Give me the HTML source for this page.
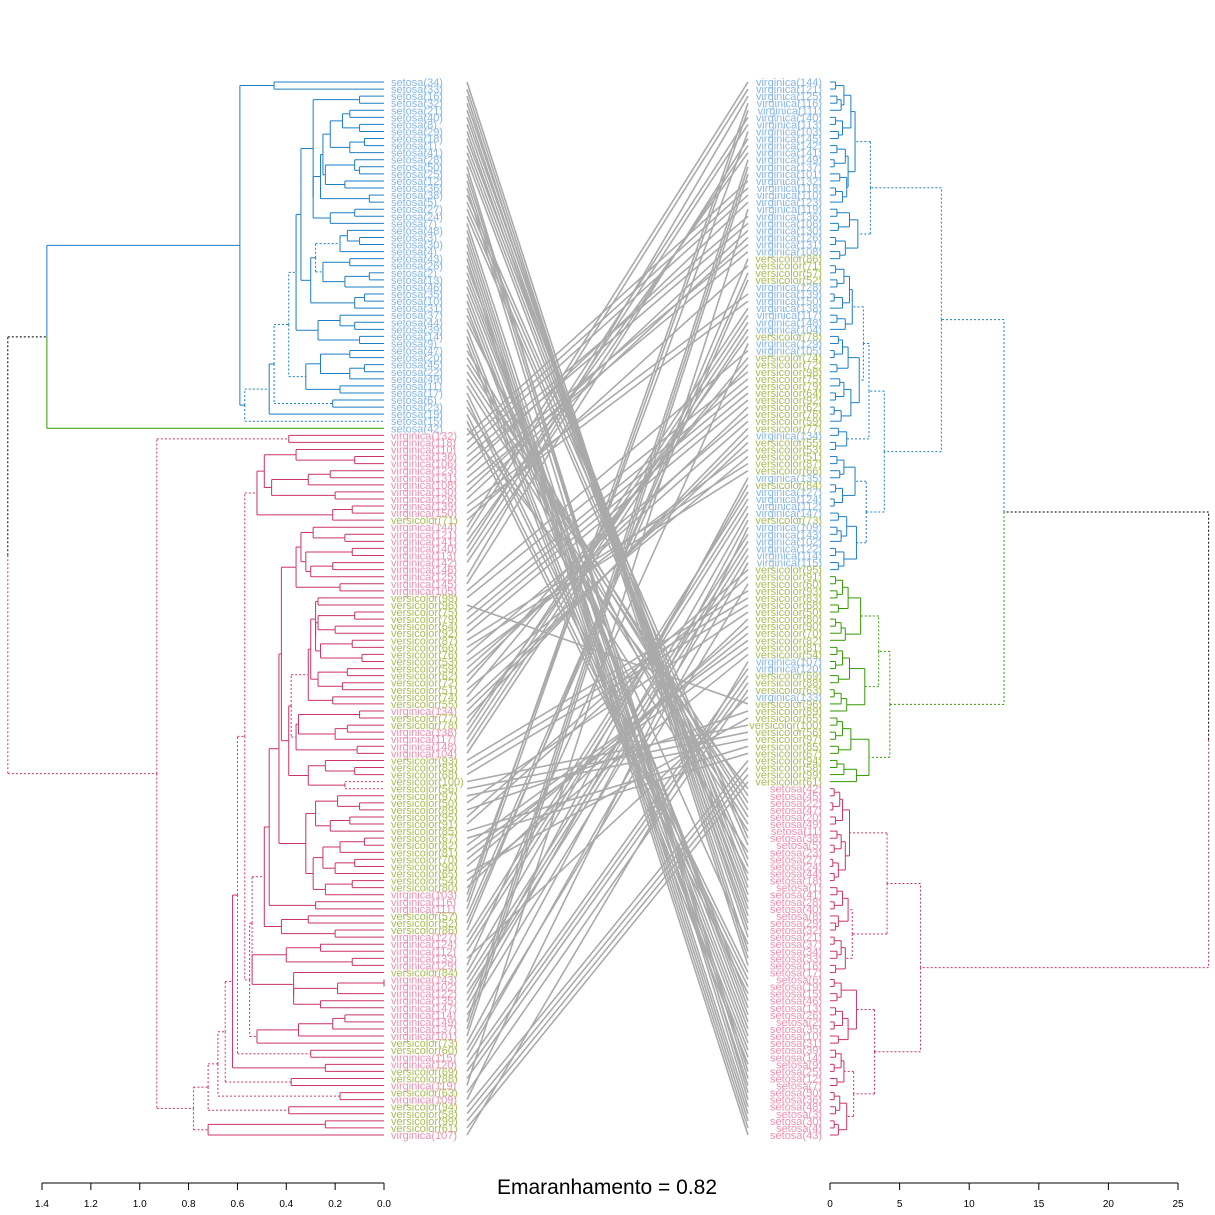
<!DOCTYPE html>
<html><head><meta charset="utf-8"><style>
html,body{margin:0;padding:0;background:#fff;}
svg{display:block;font-family:"Liberation Sans",sans-serif;}
</style></head><body>
<svg id="chart" width="1215" height="1215" viewBox="0 0 1215 1215" xmlns="http://www.w3.org/2000/svg">
<g id="left-dend"></g>
<g id="right-dend"></g>
<g id="links"></g>
<g id="left-labels"></g>
<g id="right-labels"></g>
<g id="left-axis"></g>
<g id="right-axis"></g>
<text x="607" y="1194" font-size="21" text-anchor="middle" fill="#000">Emaranhamento = 0.82</text>
</svg>
<script>
const leftLabels = ["setosa(34)","setosa(33)","setosa(16)","setosa(32)","setosa(21)","setosa(40)","setosa(8)","setosa(29)","setosa(18)","setosa(1)","setosa(41)","setosa(28)","setosa(50)","setosa(25)","setosa(12)","setosa(36)","setosa(38)","setosa(5)","setosa(27)","setosa(24)","setosa(7)","setosa(48)","setosa(3)","setosa(30)","setosa(4)","setosa(43)","setosa(26)","setosa(2)","setosa(13)","setosa(46)","setosa(35)","setosa(10)","setosa(31)","setosa(37)","setosa(44)","setosa(39)","setosa(14)","setosa(9)","setosa(47)","setosa(20)","setosa(45)","setosa(22)","setosa(49)","setosa(11)","setosa(17)","setosa(6)","setosa(23)","setosa(19)","setosa(15)","setosa(42)",
"virginica(132)","virginica(118)","virginica(110)","virginica(136)","virginica(106)","virginica(123)","virginica(131)","virginica(108)","virginica(130)","virginica(126)","virginica(139)","virginica(150)","versicolor(71)","virginica(144)","virginica(121)","virginica(141)","virginica(140)","virginica(113)","virginica(142)","virginica(146)","virginica(125)","virginica(145)","virginica(105)","versicolor(98)",
"versicolor(96)","versicolor(75)","versicolor(79)","versicolor(64)","versicolor(92)","versicolor(87)","versicolor(66)","versicolor(76)","versicolor(53)","versicolor(59)","versicolor(62)","versicolor(72)","versicolor(51)","versicolor(74)","versicolor(55)","virginica(134)","versicolor(77)","versicolor(78)","virginica(138)","virginica(117)","virginica(148)","virginica(104)","versicolor(93)","versicolor(83)","versicolor(68)","versicolor(100)","versicolor(56)","versicolor(97)","versicolor(50)","versicolor(89)","versicolor(95)","versicolor(91)","versicolor(85)","versicolor(67)","versicolor(82)","versicolor(81)","versicolor(70)","versicolor(90)",
"versicolor(65)","versicolor(54)","versicolor(80)","virginica(103)","virginica(116)","virginica(111)","versicolor(57)","versicolor(52)","versicolor(86)","virginica(127)","virginica(124)","virginica(112)","virginica(133)","virginica(129)","versicolor(84)","virginica(143)","virginica(102)","virginica(122)","virginica(135)","virginica(147)","virginica(114)","virginica(149)","virginica(137)","virginica(101)","versicolor(73)","versicolor(60)","virginica(115)","virginica(120)","versicolor(69)","versicolor(88)","virginica(119)","versicolor(63)","virginica(109)","versicolor(94)","versicolor(58)","versicolor(99)","versicolor(61)","virginica(107)"];
const leftGaps = [0.45,0.59,0.10,0.29,0.14,0.17,0.10,0.22,0.08,0.14,0.25,0.12,0.10,0.24,0.16,0.26,0.06,0.29,0.12,0.22,0.34,0.15,0.10,0.18,0.28,0.14,0.25,0.06,0.16,0.30,0.08,0.12,0.36,0.18,0.12,0.27,0.10,0.39,0.14,0.26,0.08,0.14,0.32,0.18,0.45,0.21,0.47,0.57,1.38,
1.54,0.39,0.93,
0.36,0.12,0.49,0.22,0.31,0.46,0.20,0.52,0.13,0.21,
0.57,0.29,0.16,0.34,0.13,0.32,0.21,0.30,0.36,0.18,
0.42,0.27,0.28,0.12,0.27,0.20,0.28,0.13,0.26,0.09,
0.30,0.15,0.27,0.17,0.31,0.21,0.38,0.10,0.35,0.15,
0.20,0.36,0.11,0.39,0.24,0.12,0.31,0.16,0.43,0.19,
0.10,0.28,0.14,0.22,0.32,0.08,0.18,0.25,0.12,0.20,
0.29,0.13,0.24,0.47,0.28,0.49,0.31,0.42,0.20,0.54,
0.26,0.40,0.13,0.54,0.37,0.00,0.19,0.37,0.26,0.55,
0.16,0.21,0.35,0.52,0.60,0.30,0.62,0.24,0.65,0.38,
0.68,0.18,0.72,0.39,0.78,0.24,0.72];
const leftDotted = [49,51,146,37,44,47,24,62,121,131,136,140,142,144,88,99];
const rightLabels = ["virginica(144)","virginica(121)","virginica(125)","virginica(116)","virginica(111)","virginica(140)","virginica(113)","virginica(103)","virginica(145)","virginica(142)","virginica(141)","virginica(149)","virginica(137)","virginica(101)","virginica(132)","virginica(118)","virginica(110)","virginica(123)","virginica(119)","virginica(136)","virginica(106)","virginica(130)","virginica(126)","virginica(131)","virginica(108)","versicolor(86)","versicolor(71)","versicolor(57)","versicolor(52)","virginica(128)","virginica(139)","virginica(150)","virginica(138)","virginica(117)","virginica(148)","virginica(104)","versicolor(78)","virginica(129)","virginica(105)","versicolor(74)","versicolor(72)","versicolor(98)","versicolor(75)","versicolor(79)","versicolor(64)","versicolor(92)","versicolor(62)","versicolor(76)","versicolor(59)","versicolor(77)","virginica(134)","versicolor(55)","versicolor(53)","versicolor(51)","versicolor(87)","versicolor(66)","virginica(135)","versicolor(84)","virginica(127)","virginica(124)","virginica(112)","virginica(147)","versicolor(73)","virginica(109)","virginica(143)","virginica(102)","virginica(122)","virginica(114)","virginica(115)","versicolor(95)","versicolor(91)","versicolor(60)","versicolor(93)","versicolor(83)","versicolor(68)","versicolor(50)","versicolor(80)","versicolor(90)","versicolor(70)","versicolor(82)","versicolor(81)","versicolor(54)","virginica(107)","virginica(120)","versicolor(69)","versicolor(88)","versicolor(63)","virginica(133)","versicolor(96)","versicolor(89)","versicolor(65)","versicolor(100)","versicolor(56)","versicolor(97)","versicolor(85)","versicolor(67)","versicolor(94)","versicolor(58)","versicolor(99)","versicolor(61)",
"setosa(42)","setosa(45)","setosa(22)","setosa(47)","setosa(20)","setosa(49)","setosa(11)","setosa(38)","setosa(5)","setosa(23)","setosa(27)","setosa(24)","setosa(44)","setosa(18)","setosa(1)","setosa(41)","setosa(28)","setosa(40)","setosa(8)","setosa(29)","setosa(32)","setosa(21)","setosa(37)","setosa(34)","setosa(33)","setosa(16)","setosa(17)","setosa(6)","setosa(19)","setosa(15)","setosa(46)","setosa(13)","setosa(26)","setosa(2)","setosa(35)","setosa(10)","setosa(31)","setosa(39)","setosa(14)","setosa(9)","setosa(25)","setosa(12)","setosa(7)","setosa(50)","setosa(36)","setosa(48)","setosa(3)","setosa(30)","setosa(4)","setosa(43)"];
const rightGaps = [0.4,1.0,0.5,0.8,1.5,0.4,0.9,0.6,1.8,0.5,1.1,0.3,1.3,
0.7,1.2,0.4,0.9,2.9,0.5,1.4,0.6,2.0,0.4,1.1,0.7,
8.0,
0.4,1.0,0.5,1.4,0.3,0.9,1.6,0.5,1.1,2.4,
0.6,0.9,0.3,1.3,0.5,2.1,0.7,1.0,0.4,1.5,
0.3,0.8,2.8,0.6,1.2,0.4,3.9,0.5,1.0,0.7,
1.8,0.4,0.9,0.3,2.6,0.6,1.2,0.5,0.8,1.9,0.4,1.0,0.6,
12.5,
0.4,0.9,0.5,1.3,0.6,2.2,0.4,0.8,1.1,3.5,0.5,0.9,0.4,1.4,0.6,2.5,0.3,0.8,1.2,4.3,0.5,0.9,0.4,1.5,0.6,2.8,0.5,1.0,1.9,
27.2,
0.3,0.7,0.2,0.9,0.4,1.4,0.5,0.8,0.3,1.1,
0.2,0.6,0.3,4.1,0.5,0.9,0.3,1.3,0.6,0.4,
1.6,0.3,0.8,0.5,1.1,0.4,
6.5,
0.3,0.8,0.5,1.9,0.4,0.9,0.3,1.3,0.6,3.2,
0.4,0.8,0.3,1.0,0.5,1.7,0.3,0.7,0.4,1.2,0.3,0.6];
const rightDotted = [25,69,99,126,113,136,89,79,17,35,48,52,60,120,142];
const leftTicks = [1.4,1.2,1.0,0.8,0.6,0.4,0.2,0.0];
const rightTicks = [0,5,10,15,20,25];
</script>
<script>
const NS = "http://www.w3.org/2000/svg";
const Y0 = 82, Y1 = 1135;
function yLeaf(i, n){ return Y0 + i*(Y1-Y0)/(n-1); }
const xL = h => 384 - h*(384-42)/1.4;
const xR = h => 830 + h*(1178-830)/25;
const BLUE="#1b7fc4", PINK="#cc3366", GREEN="#339900";
function mk(tag, attrs, parent){ const e=document.createElementNS(NS,tag); for(const k in attrs) e.setAttribute(k,attrs[k]); parent.appendChild(e); return e; }

function build(gaps, lo, hi, n){
  if(lo===hi) return {lo, hi, h:0, y:yLeaf(lo,n), leaf:true};
  let k=lo; for(let i=lo;i<hi;i++) if(gaps[i]>gaps[k]) k=i;
  const a=build(gaps,lo,k,n), b=build(gaps,k+1,hi,n);
  return {lo, hi, h:gaps[k], k, a, b, y:(a.y+b.y)/2};
}
function drawTree(node, xf, colorOf, dotted, g){
  if(node.leaf) return;
  const x=xf(node.h);
  const dash = dotted.includes(node.k);
  [node.a,node.b].forEach(c=>{
    const col=colorOf(c.lo,c.hi);
    const cdash = dash || col==="#000";
    const l1=mk("line",{x1:x,y1:node.y,x2:x,y2:c.y,stroke:col,"stroke-width":1,"stroke-dasharray":cdash?"2,2":"none"},g);
    
    
    const l2=mk("line",{x1:x,y1:c.y,x2:xf(c.h),y2:c.y,stroke:col,"stroke-width":1,"stroke-dasharray":cdash?"2,2":"none"},g);
    
    
    drawTree(c,xf,colorOf,dotted,g);
  });
}
function rangeColor(groups){
  return (lo,hi)=>{ for(const [a,b,c] of groups) if(lo>=a && hi<=b) return c; return "#000"; };
}
const nL=leftLabels.length, nR=rightLabels.length;
const tL=build(leftGaps,0,nL-1,nL), tR=build(rightGaps,0,nR-1,nR);
drawTree(tL,xL,rangeColor([[0,48,BLUE],[49,49,GREEN],[50,149,PINK]]),leftDotted,document.getElementById("left-dend"));
drawTree(tR,xR,rangeColor([[0,69,BLUE],[70,99,GREEN],[100,149,PINK]]),rightDotted,document.getElementById("right-dend"));

const colL={setosa:"#86b6e8",virginica:"#ee8fae",versicolor:"#a7bd52"};
const colR={virginica:"#86b6e8",setosa:"#ee8fae",versicolor:"#a7bd52"};
const gLL=document.getElementById("left-labels"), gRL=document.getElementById("right-labels");
leftLabels.forEach((s,i)=>{
  const t=mk("text",{x:391,y:yLeaf(i,nL)+4,"font-size":11,fill:colL[s.split("(")[0]]},gLL);
  
  
  t.textContent=s;
});
rightLabels.forEach((s,i)=>{
  const t=mk("text",{x:822,y:yLeaf(i,nR)+4,"font-size":11,"text-anchor":"end",fill:colR[s.split("(")[0]]},gRL);
  
  
  t.textContent=s;
});
const gLk=document.getElementById("links");
const used={};
leftLabels.forEach((s,i)=>{
  let j=-1; for(let r=0;r<nR;r++) if(rightLabels[r]===s && !used[r]){ j=r; break; }
  if(j<0) return; used[j]=1;
  const l=mk("line",{x1:467,y1:yLeaf(i,nL),x2:748,y2:yLeaf(j,nR),stroke:"#aaaaaa","stroke-width":1.6},gLk);
  
  
});
function axis(g,ticks,xf){
  const a=mk("line",{x1:xf(ticks[0]),y1:1183,x2:xf(ticks[ticks.length-1]),y2:1183,stroke:"#000"},g);
  
  
  ticks.forEach(v=>{
    const t=mk("line",{x1:xf(v),y1:1183,x2:xf(v),y2:1190,stroke:"#000"},g);
    
    
    const tx=mk("text",{x:xf(v),y:1207,"font-size":10,"text-anchor":"middle",fill:"#000"},g);
    
    
    tx.textContent=ticks===rightTicks?String(v):v.toFixed(1);
  });
}
axis(document.getElementById("left-axis"),leftTicks,xL);
axis(document.getElementById("right-axis"),rightTicks,xR);
</script>
</body></html>
